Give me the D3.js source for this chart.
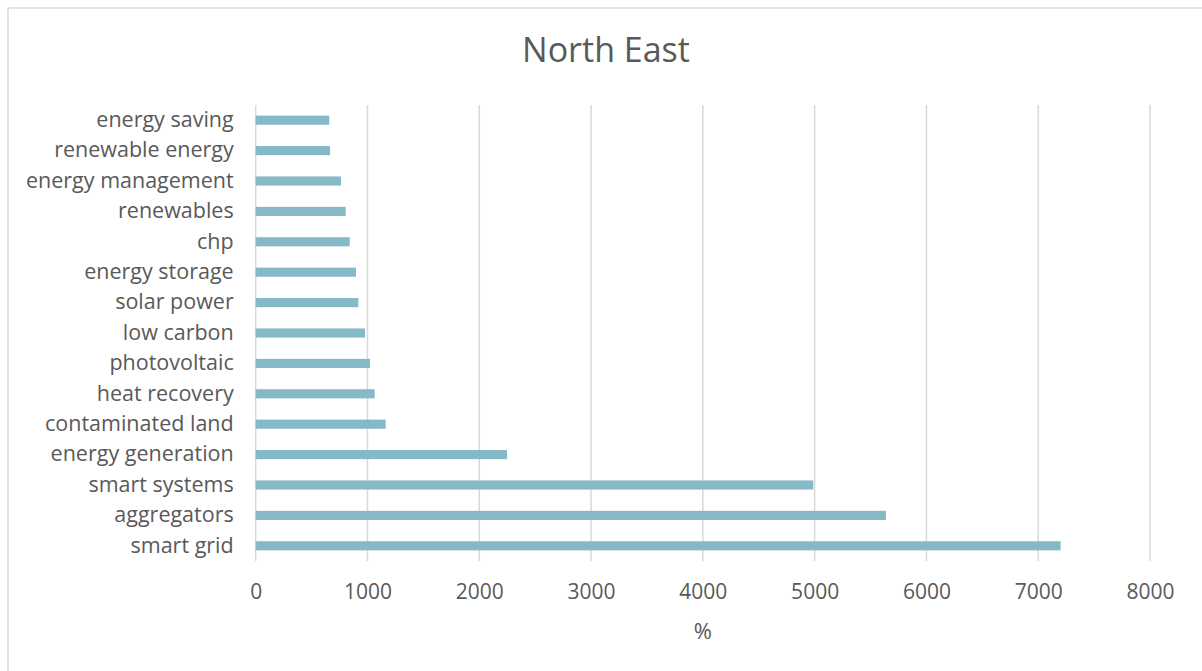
<!DOCTYPE html>
<html>
<head>
<meta charset="utf-8">
<script src="https://cdn.jsdelivr.net/npm/d3@7"></script>
<style>
    body { margin: 0; background: #fff; }
    text { font-family: "Open Sans", "Noto Sans", sans-serif; }
</style>
</head>
<body>
<div id="chart"></div>
<script>
// categories, top to bottom as drawn
var categories = ["energy saving", "renewable energy", "energy management", "renewables",
    "chp", "energy storage", "solar power", "low carbon", "photovoltaic", "heat recovery",
    "contaminated land", "energy generation", "smart systems", "aggregators", "smart grid"];
var values = [658, 665, 763, 805, 841, 897, 918, 978, 1022, 1064, 1163, 2248, 4988, 5638, 7200];
var xTicks = [0, 1000, 2000, 3000, 4000, 5000, 6000, 7000, 8000];
var title = "North East";
var xTitle = "%";

(function() {
    var width = 1202,
        height = 671,
        svg = d3.select("#chart").append("svg")
                .attr("width", width).attr("height", height);

    // chart frame
    svg.append("rect")
        .attr("x", 8).attr("y", 8)
        .attr("width", width).attr("height", height)
        .attr("fill", "#fff")
        .attr("stroke", "#d9d9d9").attr("stroke-width", 1.5);

    var plot = { left: 255.7, right: 1150, top: 105, bottom: 561 };

    var x = d3.scaleLinear().domain([0, 8000]).range([plot.left, plot.right]);
    var y = d3.scaleBand().domain(categories).range([plot.top, plot.bottom]).paddingInner(0.7).paddingOuter(0.35);

    //gridlines
    svg.append("g").selectAll("line")
        .data(xTicks)
        .enter().append("line")
        .attr("x1", function(d) { return x(d); })
        .attr("x2", function(d) { return x(d); })
        .attr("y1", plot.top).attr("y2", plot.bottom)
        .attr("stroke", "#d9d9d9").attr("stroke-width", 1.5);

    svg.append("g").selectAll("rect")
        .data(values)
        .enter().append("rect")
        .attr("x", x(0))
        .attr("y", function(d, i) { return y(categories[i]); })
        .attr("width", function(d) { return x(d) - x(0); })
        .attr("height", y.bandwidth())
        .attr("fill", "#86b9c8");

    // x axis labels, no thousands separator
    var xAxis = d3.axisBottom(x).tickValues(xTicks).tickFormat(d3.format("d")).tickSize(0).tickPadding(0);
    var gx = svg.append("g")
        .attr("transform", "translate(0," + 599 + ")")
        .call(xAxis);
    gx.select(".domain").remove();
    gx.selectAll("text")
        .attr("dy", 0)
        .style("font-size", "21px")
        .style("fill", "#595959");

    // y axis labels
    var yAxis = d3.axisLeft(y).tickSize(0).tickPadding(22);
    var gy = svg.append("g")
        .attr("transform", "translate(" + plot.left + ",0)")
        .call(yAxis);
    gy.select(".domain").remove();
    gy.selectAll("text")
        .style("font-size", "21.5px")
        .style("fill", "#595959");

    svg.append("text")
        .attr("x", 606).attr("y", 62)
        .attr("text-anchor", "middle")
        .style("font-size", "34px")
        .style("fill", "#595959")
        .text(title);

    svg.append("text")
        .attr("x", x(4000)).attr("y", 639)
        .attr("text-anchor", "middle")
        .style("font-size", "22px")
        .style("fill", "#595959")
        .text(xTitle);
})();
</script>
</body>
</html>
